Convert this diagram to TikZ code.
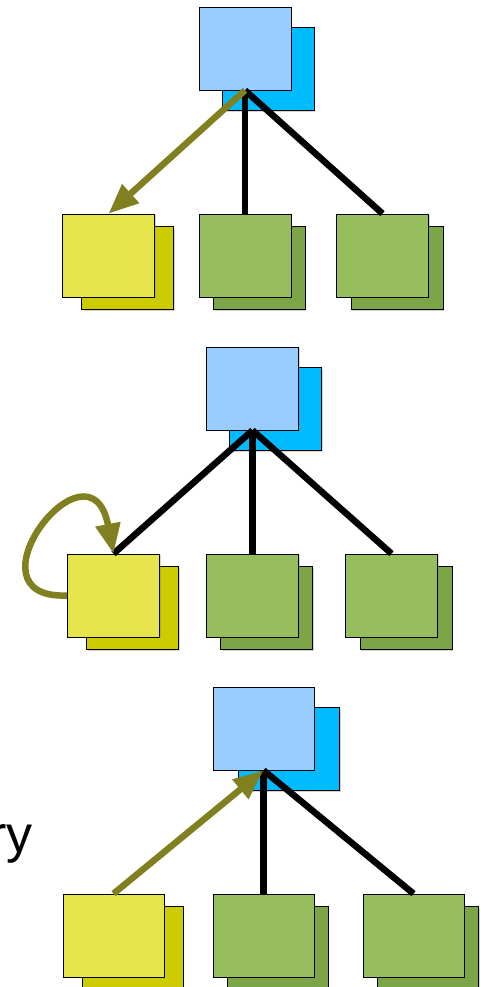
\documentclass[tikz,border=0pt]{standalone}
\usepackage{fontspec}
\setmainfont{Liberation Sans}
\usetikzlibrary{arrows.meta,shadows}

\definecolor{topfront}{RGB}{153,204,255}
\definecolor{topback}{RGB}{0,187,255}
\definecolor{yelfront}{RGB}{230,230,76}
\definecolor{yelback}{RGB}{204,204,0}
\definecolor{grnfront}{RGB}{151,190,94}
\definecolor{grnback}{RGB}{123,165,70}
\definecolor{olivearrow}{RGB}{128,128,32}

\begin{document}
\begin{tikzpicture}[x=1pt,y=-1pt,
    box/.style={draw, line width=0.7pt, inner sep=0pt, minimum height=83pt,
      drop shadow={shadow xshift=1.2pt, shadow yshift=-1.2pt, opacity=0.35}},
    link/.style={line width=6.5pt},
    hop/.style={line width=6.5pt, olivearrow, -{Triangle[length=30pt,width=24pt]}}]
    \useasboundingbox (0,0) rectangle (481,987);
    % three trees, one per row: name / top x / top y / box width / back shift of top
    \foreach \r/\tx/\ty/\w/\bx/\ya/\xa/\xb/\xc in
        {1/245/48.5/92/23/255.5/108.5/245/382.5,
         2/252.5/388.5/92/23/595.5/113.5/252.5/391.5,
         3/263.5/728.5/101/25.5/935.5/113.5/263.5/413.5}{
      \node[box, fill=topback, minimum width=\w pt] (topb\r) at (\tx+\bx,\ty+20.5) {};
      \node[box, fill=topfront, minimum width=\w pt] (top\r) at (\tx,\ty) {};
      \node[box, fill=yelback, minimum width=\w pt] (yelb\r) at (\xa+19,\ya+12.5) {};
      \node[box, fill=yelfront, minimum width=\w pt] (yel\r) at (\xa,\ya) {};
      \node[box, fill=grnback, minimum width=\w pt] (grab\r) at (\xb+14,\ya+12.5) {};
      \node[box, fill=grnfront, minimum width=\w pt] (gra\r) at (\xb,\ya) {};
      \node[box, fill=grnback, minimum width=\w pt] (grbb\r) at (\xc+14.5,\ya+12.5) {};
      \node[box, fill=grnfront, minimum width=\w pt] (grb\r) at (\xc,\ya) {};
      \draw[link] (top\r.south) -- (gra\r.north);
      \draw[link] (top\r.south) -- (grb\r.north);
    }
    \draw[hop] (top1.south) -- (yel1.north);
    \draw[link] (top2.south) -- (yel2.north);
    \draw[hop] (yel2.west) .. controls (-40,600) and (90,430) .. (yel2.north);
    \draw[hop] (yel3.north) -- (top3.south);
    \node[font=\fontsize{52}{60}\selectfont, anchor=base east] (cut) at (36,852) {ry};
\end{tikzpicture}
\end{document}
